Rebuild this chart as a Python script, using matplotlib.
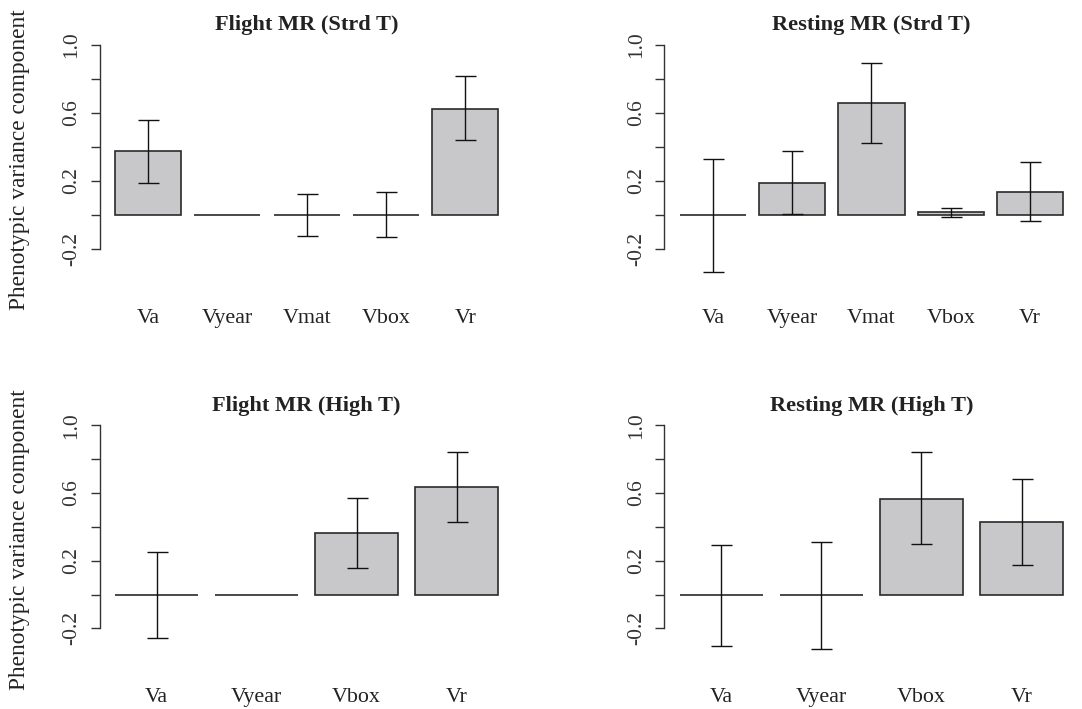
import matplotlib
matplotlib.use("Agg")
import matplotlib.pyplot as plt
import numpy as np

plt.rcParams['font.family'] = ['Liberation Serif', 'DejaVu Serif']

# ---- data ----
titles = ["Flight MR (Strd T)", "Resting MR (Strd T)",
          "Flight MR (High T)", "Resting MR (High T)"]

cats_strd = ["Va", "Vyear", "Vmat", "Vbox", "Vr"]
cats_high = ["Va", "Vyear", "Vbox", "Vr"]

flight_strd_est = [0.374, 0.0, 0.0, 0.0, 0.625]
flight_strd_lo = [0.19, 0.0, -0.124, -0.132, 0.44]
flight_strd_hi = [0.56, 0.0, 0.12, 0.132, 0.815]

resting_strd_est = [0.0, 0.19, 0.66, 0.014, 0.136]
resting_strd_lo = [-0.34, 0.006, 0.424, -0.016, -0.035]
resting_strd_hi = [0.33, 0.377, 0.893, 0.04, 0.308]

flight_high_est = [0.0, 0.0, 0.363, 0.636]
flight_high_lo = [-0.256, 0.0, 0.156, 0.43]
flight_high_hi = [0.252, 0.0, 0.573, 0.841]

resting_high_est = [0.0, 0.0, 0.567, 0.43]
resting_high_lo = [-0.305, -0.319, 0.30, 0.175]
resting_high_hi = [0.292, 0.313, 0.841, 0.683]

yticks = [-0.2, 0.0, 0.2, 0.4, 0.6, 0.8, 1.0]
ytick_labels = ["-0.2", "", "0.2", "", "0.6", "", "1.0"]
ylabel = "Phenotypic variance component"

panels = [
    (titles[0], cats_strd, flight_strd_est, flight_strd_lo, flight_strd_hi),
    (titles[1], cats_strd, resting_strd_est, resting_strd_lo, resting_strd_hi),
    (titles[2], cats_high, flight_high_est, flight_high_lo, flight_high_hi),
    (titles[3], cats_high, resting_high_est, resting_high_lo, resting_high_hi),
]

W, H = 1082, 709
fig = plt.figure(figsize=(W / 100, H / 100), dpi=100)

# axes rectangles in pixels (left, top, right, bottom)
rects = [
    (99.5, 35.9, 513.7, 283.3),
    (664.5, 35.9, 1078.5, 283.3),
    (99.5, 416.2, 513.7, 663.0),
    (664.5, 416.2, 1078.5, 663.0),
]

FS = 15.5
bar_fc = "#C8C8CA"
edge = "#2a2a2a"
px = 72 / 100.0  # points per pixel

for i, ((title, cats, est, lo, hi), (l, t, r, b)) in enumerate(zip(panels, rects)):
    ax = fig.add_axes([l / W, 1 - b / H, (r - l) / W, (b - t) / H])
    n = len(cats)
    x = np.arange(n) * 1.2 + 0.7
    rng = n * 1.2 - 0.2
    ax.set_xlim(0.2 - 0.04 * rng, n * 1.2 + 0.04 * rng)
    ylo, yhi = -0.35, 1.0
    d = 0.04 * (yhi - ylo)
    ax.set_ylim(ylo - d, yhi + d)

    ax.bar(x, est, width=1.0, color=bar_fc, edgecolor=edge, linewidth=1.2, zorder=2)

    est_a = np.array(est)
    lo_a = np.array(lo)
    hi_a = np.array(hi)
    m = hi_a > lo_a
    ax.errorbar(x[m], est_a[m], yerr=[est_a[m] - lo_a[m], hi_a[m] - est_a[m]],
                fmt="none", ecolor="#111111", elinewidth=1.0, capsize=10.5 * px,
                capthick=1.0, zorder=3)

    for s in ["top", "right", "bottom"]:
        ax.spines[s].set_visible(False)
    ax.spines["left"].set_bounds(-0.2, 1.0)
    ax.spines["left"].set_color("#333333")
    ax.spines["left"].set_linewidth(1.0)
    ax.set_yticks(yticks)
    ax.set_yticklabels(ytick_labels, rotation=90, va="center", fontsize=FS, color="#333333")
    ax.tick_params(axis="y", length=9 * px, width=1.0, color="#333333", pad=6.5)
    ax.set_xticks([])
    ax.patch.set_visible(False)

    for xi, c in zip(x, cats):
        ax.annotate(c, xy=(xi, 0), xycoords=("data", "axes fraction"),
                    xytext=(0, -39.4 * px), textcoords="offset points",
                    ha="center", va="baseline", fontsize=15.8, color="#222222")

    ax.annotate(title, xy=(0.5, 1), xycoords="axes fraction",
                xytext=(0, 5.5 * px), textcoords="offset points",
                ha="center", va="baseline", fontsize=16.1, fontweight="bold",
                color="#222222")

    if i % 2 == 0:
        cy = (t + b) / 2
        fig.text(20 / W, 1 - cy / H, ylabel, rotation=90, ha="center", va="center",
                 fontsize=16.8, color="#222222")

fig.savefig("out.png", dpi=100)
